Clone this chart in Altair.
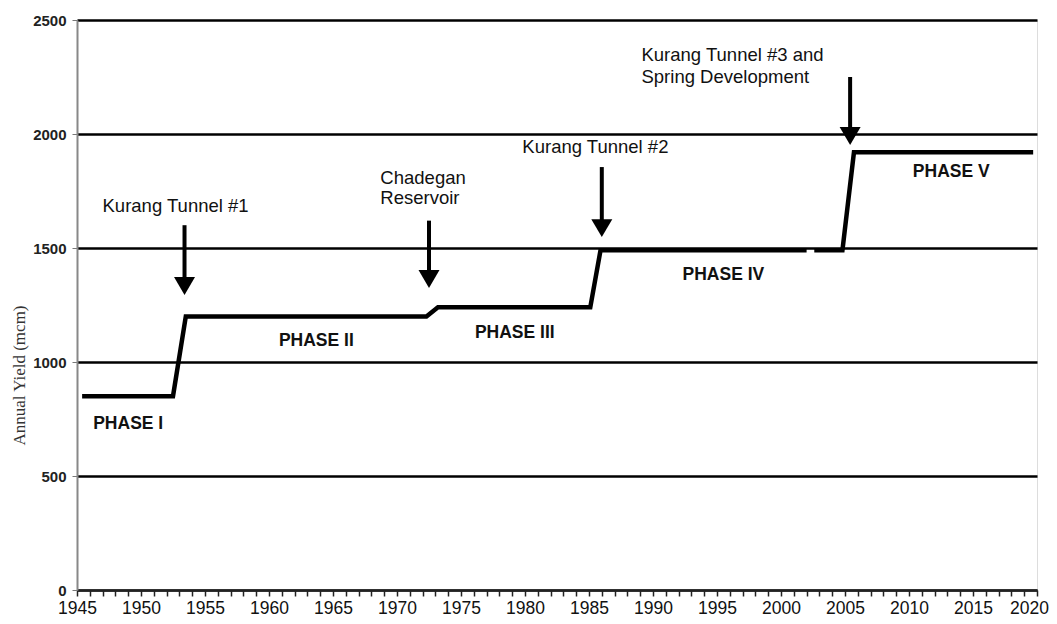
import altair as alt
import pandas as pd

# Yield line (two segments because of the small gap in phase IV)
seg_a_years = [1945.4, 1952.5, 1953.5, 1972.3, 1973.2, 1985.1, 1985.9, 2002.0]
seg_a_vals = [850, 850, 1200, 1200, 1240, 1240, 1490, 1490]
seg_b_years = [2002.6, 2004.8, 2005.7, 2019.7]
seg_b_vals = [1490, 1490, 1920, 1920]

# Arrows
arrow_x = [1953.4, 1972.5, 1986.0, 2005.4]
arrow_top = [1600, 1620, 1855, 2250]
arrow_tip = [1294, 1325, 1548, 1952]

# Event annotations
event_text = ["Kurang Tunnel #1", "Kurang Tunnel #2"]
event_x = [1952.7, 1985.5]
event_y = [1684, 1943]
left_text = ["Chadegan", "Reservoir", "Kurang Tunnel #3 and", "Spring Development"]
left_x = [1968.7, 1968.7, 1989.1, 1989.1]
left_y = [1807, 1719, 2346, 2250]

# Phase labels
phase_text = ["PHASE I", "PHASE II", "PHASE III", "PHASE IV", "PHASE V"]
phase_x = [1949.0, 1963.7, 1979.2, 1995.5, 2013.3]
phase_y = [728, 1092, 1127, 1382, 1833]

y_ticks = [0, 500, 1000, 1500, 2000, 2500]
x_ticks = list(range(1945, 2021))

line_df = pd.DataFrame({
    "year": seg_a_years + seg_b_years,
    "yield": seg_a_vals + seg_b_vals,
    "seg": ["a"] * len(seg_a_years) + ["b"] * len(seg_b_years),
})
arrow_df = pd.DataFrame({"x": arrow_x, "top": arrow_top, "tip": arrow_tip})
arrow_df["base"] = [t + 30 for t in arrow_tip]
event_df = pd.DataFrame({"x": event_x, "y": event_y, "t": event_text})
left_df = pd.DataFrame({"x": left_x, "y": left_y, "t": left_text})
phase_df = pd.DataFrame({"x": phase_x, "y": phase_y, "t": phase_text})

FONT = "Liberation Sans"

xscale = alt.Scale(domain=[1945, 2020], nice=False, zero=False)
yscale = alt.Scale(domain=[0, 2500], nice=False)

xaxis = alt.Axis(
    values=x_ticks, labelExpr="datum.value % 5 == 0 ? datum.label : ''",
    format="d", grid=False, title=None, tickSize=6, tickColor="#222",
    tickWidth=1.5, domainColor="#222", domainWidth=2, labelFont=FONT,
    labelFontSize=17.5, labelColor="#111", labelPadding=3, labelFlush=False,
    labelOverlap=False, labelBound=False,
    labelOffset={"condition": {"test": "datum.value == 2020", "value": -8}, "value": 0},
)
yaxis = alt.Axis(
    values=y_ticks, format="d", grid=True, gridColor="#000", gridWidth=2.5,
    tickSize=5, tickColor="#777", domainColor="#888", domainWidth=2,
    labelFont=FONT, labelFontSize=15, labelFontWeight="bold", labelColor="#222",
    labelPadding=6, title="Annual Yield (mcm)", titleFont="Liberation Serif",
    titleFontSize=17, titleFontWeight="normal", titleColor="#333",
    titleAngle=-90, titleX=-58, titleY=355, titleAlign="center",
    titleBaseline="middle",
)


def X(field):
    return alt.X(field, scale=xscale, axis=xaxis)


def Y(field):
    return alt.Y(field, scale=yscale, axis=yaxis)


base_line = alt.Chart(line_df).mark_line(
    color="black", strokeWidth=4.5, strokeJoin="miter"
).encode(x=X("year:Q"), y=Y("yield:Q"), detail="seg:N")

rules = alt.Chart(arrow_df).mark_rule(color="black", strokeWidth=4).encode(
    x=X("x:Q"), y=Y("top:Q"), y2="base:Q"
)

heads = alt.Chart(arrow_df).mark_point(
    shape="M-1,-1.7L1,-1.7L0,0Z", filled=True, color="black", opacity=1,
    size=441, strokeWidth=0,
).encode(x=X("x:Q"), y=Y("tip:Q"))

events = alt.Chart(event_df).mark_text(
    font=FONT, fontSize=18.5, color="#111", align="center", baseline="middle"
).encode(x=X("x:Q"), y=Y("y:Q"), text="t:N")

lefts = alt.Chart(left_df).mark_text(
    font=FONT, fontSize=18.5, color="#111", align="left", baseline="middle"
).encode(x=X("x:Q"), y=Y("y:Q"), text="t:N")

phases = alt.Chart(phase_df).mark_text(
    font=FONT, fontSize=17.5, fontWeight="bold", color="#111",
    align="center", baseline="middle"
).encode(x=X("x:Q"), y=Y("y:Q"), text="t:N")

chart = alt.layer(base_line, rules, heads, events, lefts, phases).properties(
    width=960, height=570,
    autosize=alt.AutoSizeParams(type="none"),
    padding={"left": 69, "top": 12, "right": 12, "bottom": 34},
).configure_view(stroke="#999", strokeWidth=1.5).configure(background="white")

chart.save("out.html", embed_options={"renderer": "svg", "actions": False})
